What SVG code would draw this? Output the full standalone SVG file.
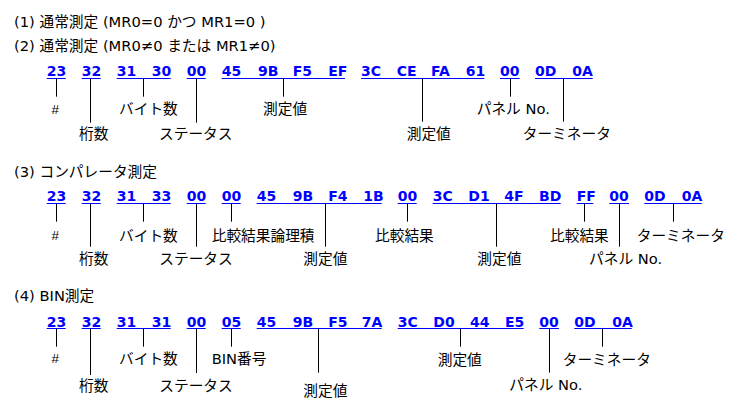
<svg xmlns="http://www.w3.org/2000/svg" width="755" height="420" viewBox="0 0 755 420">
<style>
.h{font-family:"DejaVu Sans","Noto Sans CJK JP",sans-serif;font-size:14.7px;fill:#000}
.x{font-family:"DejaVu Sans","Liberation Sans",sans-serif;font-size:14px;font-weight:bold;fill:#0000ff}
.u{stroke:#0000ff;stroke-width:1}
.l{font-family:"DejaVu Sans","Noto Sans CJK JP",sans-serif;font-size:14.7px;fill:#000}
.hs{font-family:"Liberation Sans",sans-serif;font-size:13.5px;fill:#000}
.c{stroke:#000;stroke-width:1}
</style>
<rect width="755" height="420" fill="#fff"/>
<g id="headers">
<text class="h" x="14" y="26.5">(1) 通常測定 (MR0=0 かつ MR1=0 )</text>
<text class="h" x="14" y="51">(2) 通常測定 (MR0≠0 または MR1≠0)</text>
<text class="h" x="14" y="176.5">(3) コンパレータ測定</text>
<text class="h" x="14" y="301">(4) BIN測定</text>
</g>
<!-- Row 2 -->
<g id="r2-fields">
<g id="r2-f1"><text class="x" x="46.7" y="76">23</text><line class="u" x1="46.7" y1="78.5" x2="65.7" y2="78.5"/></g>
<g id="r2-f2"><text class="x" x="81.7" y="76">32</text><line class="u" x1="81.7" y1="78.5" x2="100.7" y2="78.5"/></g>
<g id="r2-f3"><text class="x" x="116.7" y="76">31</text><text class="x" x="151.7" y="76">30</text><line class="u" x1="116.7" y1="78.5" x2="170.7" y2="78.5"/></g>
<g id="r2-f4"><text class="x" x="186.7" y="76">00</text><line class="u" x1="186.7" y1="78.5" x2="205.7" y2="78.5"/></g>
<g id="r2-f5"><text class="x" x="221.7" y="76">45</text><text class="x" x="258" y="76">9B</text><text class="x" x="292.7" y="76">F5</text><text class="x" x="328.3" y="76">EF</text><line class="u" x1="221.7" y1="78.5" x2="345" y2="78.5"/></g>
<g id="r2-f6"><text class="x" x="361" y="76">3C</text><text class="x" x="396.7" y="76">CE</text><text class="x" x="431" y="76">FA</text><text class="x" x="465.7" y="76">61</text><line class="u" x1="361" y1="78.5" x2="484.3" y2="78.5"/></g>
<g id="r2-f7"><text class="x" x="500" y="76">00</text><line class="u" x1="500" y1="78.5" x2="519.7" y2="78.5"/></g>
<g id="r2-f8"><text class="x" x="535" y="76">0D</text><text class="x" x="572.3" y="76">0A</text><line class="u" x1="535" y1="78.5" x2="592.7" y2="78.5"/></g>
</g>
<g id="r2-labels">
<g id="r2-l1"><text class="hs" x="51.5" y="114">#</text></g>
<g id="r2-l2"><text class="l" x="79" y="138.6">桁数</text></g>
<g id="r2-l3"><text class="l" x="119" y="113.6">バイト数</text></g>
<g id="r2-l4"><text class="l" x="159" y="138.6">ステータス</text></g>
<g id="r2-l5"><text class="l" x="263" y="113.6">測定値</text></g>
<g id="r2-l6"><text class="l" x="406.7" y="138.6">測定値</text></g>
<g id="r2-l7"><text class="l" x="476.7" y="113.6">パネル No.</text></g>
<g id="r2-l8"><text class="l" x="522.7" y="138.6">ターミネータ</text></g>
</g>
<!-- Row 3 -->
<g id="r3-fields">
<g id="r3-f1"><text class="x" x="46.7" y="201.3">23</text><line class="u" x1="46.7" y1="203.5" x2="65.7" y2="203.5"/></g>
<g id="r3-f2"><text class="x" x="81.7" y="201.3">32</text><line class="u" x1="81.7" y1="203.5" x2="100.7" y2="203.5"/></g>
<g id="r3-f3"><text class="x" x="116.7" y="201.3">31</text><text class="x" x="151.7" y="201.3">33</text><line class="u" x1="116.7" y1="203.5" x2="170.7" y2="203.5"/></g>
<g id="r3-f4"><text class="x" x="186.7" y="201.3">00</text><line class="u" x1="186.7" y1="203.5" x2="205.7" y2="203.5"/></g>
<g id="r3-f5"><text class="x" x="221.7" y="201.3">00</text><line class="u" x1="221.7" y1="203.5" x2="240.7" y2="203.5"/></g>
<g id="r3-f6"><text class="x" x="256.7" y="201.3">45</text><text class="x" x="292.7" y="201.3">9B</text><text class="x" x="328.3" y="201.3">F4</text><text class="x" x="363.3" y="201.3">1B</text><line class="u" x1="256.7" y1="203.5" x2="381.7" y2="203.5"/></g>
<g id="r3-f7"><text class="x" x="397.7" y="201.3">00</text><line class="u" x1="397.7" y1="203.5" x2="416.7" y2="203.5"/></g>
<g id="r3-f8"><text class="x" x="432.7" y="201.3">3C</text><text class="x" x="468.3" y="201.3">D1</text><text class="x" x="504.3" y="201.3">4F</text><text class="x" x="539" y="201.3">BD</text><line class="u" x1="432.7" y1="203.5" x2="560.7" y2="203.5"/></g>
<g id="r3-f9"><text class="x" x="576.7" y="201.3">FF</text><line class="u" x1="576.7" y1="203.5" x2="593.3" y2="203.5"/></g>
<g id="r3-f10"><text class="x" x="609.3" y="201.3">00</text><line class="u" x1="609.3" y1="203.5" x2="629" y2="203.5"/></g>
<g id="r3-f11"><text class="x" x="644.3" y="201.3">0D</text><text class="x" x="681.7" y="201.3">0A</text><line class="u" x1="644.3" y1="203.5" x2="701.7" y2="203.5"/></g>
</g>
<g id="r3-labels">
<g id="r3-l1"><text class="hs" x="51.5" y="240">#</text></g>
<g id="r3-l2"><text class="l" x="79" y="264">桁数</text></g>
<g id="r3-l3"><text class="l" x="119" y="240.6">バイト数</text></g>
<g id="r3-l4"><text class="l" x="159.3" y="264">ステータス</text></g>
<g id="r3-l5"><text class="l" x="211.7" y="240.6">比較結果論理積</text></g>
<g id="r3-l6"><text class="l" x="303.3" y="264">測定値</text></g>
<g id="r3-l7"><text class="l" x="375" y="240.6">比較結果</text></g>
<g id="r3-l8"><text class="l" x="477.3" y="264">測定値</text></g>
<g id="r3-l9"><text class="l" x="550" y="240.6">比較結果</text></g>
<g id="r3-l10"><text class="l" x="589" y="264">パネル No.</text></g>
<g id="r3-l11"><text class="l" x="636.7" y="240.6">ターミネータ</text></g>
</g>
<!-- Row 4 -->
<g id="r4-fields">
<g id="r4-f1"><text class="x" x="46.7" y="326.7">23</text><line class="u" x1="46.7" y1="328.5" x2="65.7" y2="328.5"/></g>
<g id="r4-f2"><text class="x" x="81.7" y="326.7">32</text><line class="u" x1="81.7" y1="328.5" x2="100.7" y2="328.5"/></g>
<g id="r4-f3"><text class="x" x="116.7" y="326.7">31</text><text class="x" x="151.7" y="326.7">31</text><line class="u" x1="116.7" y1="328.5" x2="170.7" y2="328.5"/></g>
<g id="r4-f4"><text class="x" x="186.7" y="326.7">00</text><line class="u" x1="186.7" y1="328.5" x2="205.7" y2="328.5"/></g>
<g id="r4-f5"><text class="x" x="221.7" y="326.7">05</text><line class="u" x1="221.7" y1="328.5" x2="240.7" y2="328.5"/></g>
<g id="r4-f6"><text class="x" x="256.7" y="326.7">45</text><text class="x" x="292.7" y="326.7">9B</text><text class="x" x="328.3" y="326.7">F5</text><text class="x" x="361.7" y="326.7">7A</text><line class="u" x1="256.7" y1="328.5" x2="381.7" y2="328.5"/></g>
<g id="r4-f7"><text class="x" x="397.7" y="326.7">3C</text><text class="x" x="433.3" y="326.7">D0</text><text class="x" x="470" y="326.7">44</text><text class="x" x="505" y="326.7">E5</text><line class="u" x1="397.7" y1="328.5" x2="523.7" y2="328.5"/></g>
<g id="r4-f8"><text class="x" x="539.3" y="326.7">00</text><line class="u" x1="539.3" y1="328.5" x2="559" y2="328.5"/></g>
<g id="r4-f9"><text class="x" x="574.3" y="326.7">0D</text><text class="x" x="612.3" y="326.7">0A</text><line class="u" x1="574.3" y1="328.5" x2="631.7" y2="328.5"/></g>
</g>
<g id="r4-labels">
<g id="r4-l1"><text class="hs" x="51.5" y="362.5">#</text></g>
<g id="r4-l2"><text class="l" x="79" y="390.6">桁数</text></g>
<g id="r4-l3"><text class="l" x="119" y="364">バイト数</text></g>
<g id="r4-l4"><text class="l" x="159.3" y="390.6">ステータス</text></g>
<g id="r4-l5"><text class="l" x="211.7" y="364">BIN番号</text></g>
<g id="r4-l6"><text class="l" x="303.3" y="395.6">測定値</text></g>
<g id="r4-l7"><text class="l" x="437.7" y="365">測定値</text></g>
<g id="r4-l8"><text class="l" x="509.3" y="389.6">パネル No.</text></g>
<g id="r4-l9"><text class="l" x="562.7" y="364.6">ターミネータ</text></g>
</g>
<g id="connectors">
<line class="c" x1="56.5" y1="79" x2="56.5" y2="96.7"/>
<line class="c" x1="90.5" y1="79" x2="90.5" y2="122.7"/>
<line class="c" x1="143.5" y1="79" x2="143.5" y2="96.7"/>
<line class="c" x1="196.5" y1="79" x2="196.5" y2="122.7"/>
<line class="c" x1="283.5" y1="79" x2="283.5" y2="96.7"/>
<line class="c" x1="422.5" y1="79" x2="422.5" y2="121.7"/>
<line class="c" x1="510.5" y1="79" x2="510.5" y2="96.7"/>
<line class="c" x1="563.5" y1="79" x2="563.5" y2="121.7"/>

<line class="c" x1="56.5" y1="204" x2="56.5" y2="221.7"/>
<line class="c" x1="90.5" y1="204" x2="90.5" y2="246.7"/>
<line class="c" x1="143.5" y1="204" x2="143.5" y2="221.7"/>
<line class="c" x1="196.5" y1="204" x2="196.5" y2="246.7"/>
<line class="c" x1="231.5" y1="204" x2="231.5" y2="221.7"/>
<line class="c" x1="325.5" y1="204" x2="325.5" y2="246.7"/>
<line class="c" x1="407.5" y1="204" x2="407.5" y2="221.7"/>
<line class="c" x1="496.5" y1="204" x2="496.5" y2="246.7"/>
<line class="c" x1="584.5" y1="204" x2="584.5" y2="221.7"/>
<line class="c" x1="619.5" y1="204" x2="619.5" y2="246.7"/>
<line class="c" x1="673.5" y1="204" x2="673.5" y2="221.7"/>

<line class="c" x1="56.5" y1="329" x2="56.5" y2="346.7"/>
<line class="c" x1="90.5" y1="329" x2="90.5" y2="375"/>
<line class="c" x1="143.5" y1="329" x2="143.5" y2="346.7"/>
<line class="c" x1="196.5" y1="329" x2="196.5" y2="373"/>
<line class="c" x1="231.5" y1="329" x2="231.5" y2="346.7"/>
<line class="c" x1="318.5" y1="329" x2="318.5" y2="372.7"/>
<line class="c" x1="460.5" y1="329" x2="460.5" y2="346.7"/>
<line class="c" x1="549.5" y1="329" x2="549.5" y2="372.7"/>
<line class="c" x1="602.5" y1="329" x2="602.5" y2="346.7"/>
</g>
</svg>
